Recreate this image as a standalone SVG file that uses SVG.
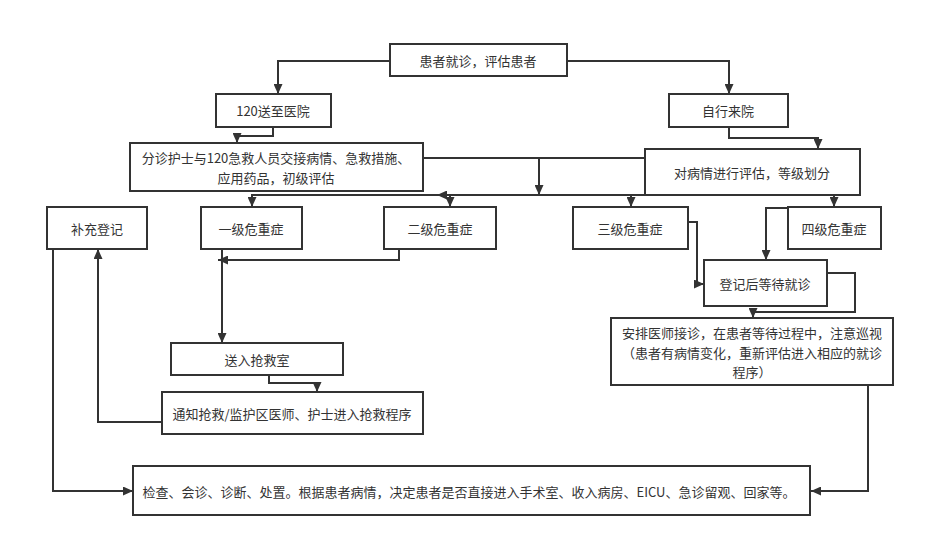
<svg xmlns="http://www.w3.org/2000/svg" width="925" height="545" viewBox="0 0 925 545">
<style>
.box{fill:#fff;stroke:#333;stroke-width:2}
.t{font-family:"Noto Sans CJK SC","Microsoft YaHei",sans-serif;font-size:13px;fill:#333;text-anchor:middle;dominant-baseline:central}
.c{fill:none;stroke:#333;stroke-width:2;marker-end:url(#a)}
.n{fill:none;stroke:#333;stroke-width:2}
</style>
<defs>
<marker id="a" markerUnits="userSpaceOnUse" markerWidth="10" markerHeight="9" refX="10" refY="4.5" orient="auto">
<path d="M0,0 L10,4.5 L0,9 z" fill="#333"/>
</marker>
</defs>
<rect width="925" height="545" fill="#fff"/>
<g id="connectors">
<path class="c" d="M390,61 H278 V94"/>
<path class="c" d="M567,61 H729 V94"/>
<path class="c" d="M273,127 V136 H237 V143"/>
<path class="c" d="M729,127 V138 H818 V149"/>
<path class="n" d="M423,158 H645"/>
<path class="c" d="M539,158 V195"/>
<path class="c" d="M645,195 H252 V207"/>
<path class="c" d="M645,195 H437"/>
<path class="c" d="M450,195 V207"/>
<path class="c" d="M631,195 V207"/>
<path class="c" d="M834,195 V207"/>
<path class="c" d="M399,249 V260 H218"/>
<path class="c" d="M222,249 V343"/>
<path class="c" d="M269,375 V383 H317 V392"/>
<path class="c" d="M162,422 H98 V249"/>
<path class="c" d="M53,249 V491 H133"/>
<path class="c" d="M688,222 H697 V284 H704"/>
<path class="c" d="M788,208 H766 V260"/>
<path class="c" d="M827,273 H855 V312 H753 V318"/>
<path class="c" d="M868,385 V491 H811"/>
</g>
<g id="n_start"><rect class="box" x="390" y="44" width="177" height="32"/><text class="t" x="478" y="60">患者就诊，评估患者</text></g>
<g id="n_120"><rect class="box" x="216" y="94" width="115" height="33"/><text class="t" x="273" y="110">120送至医院</text></g>
<g id="n_self"><rect class="box" x="669" y="94" width="119" height="33"/><text class="t" x="728" y="110">自行来院</text></g>
<g id="n_handover"><rect class="box" x="130" y="143" width="293" height="48"/><text class="t" x="276" y="157.5">分诊护士与120急救人员交接病情、急救措施、<tspan x="276" dy="19">应用药品，初级评估</tspan></text></g>
<g id="n_assess"><rect class="box" x="645" y="149" width="215" height="46"/><text class="t" x="752" y="172">对病情进行评估，等级划分</text></g>
<g id="n_supp"><rect class="box" x="47" y="207" width="100" height="42"/><text class="t" x="97" y="228">补充登记</text></g>
<g id="n_l1"><rect class="box" x="201" y="207" width="101" height="42"/><text class="t" x="251" y="228">一级危重症</text></g>
<g id="n_l2"><rect class="box" x="384" y="207" width="112" height="42"/><text class="t" x="440" y="228">二级危重症</text></g>
<g id="n_l3"><rect class="box" x="573" y="207" width="115" height="42"/><text class="t" x="630" y="228">三级危重症</text></g>
<g id="n_l4"><rect class="box" x="788" y="207" width="93" height="42"/><text class="t" x="834" y="228">四级危重症</text></g>
<g id="n_wait"><rect class="box" x="704" y="260" width="123" height="46"/><text class="t" x="765" y="283">登记后等待就诊</text></g>
<g id="n_doctor"><rect class="box" x="611" y="318" width="282" height="67"/><text class="t" x="752" y="332.5">安排医师接诊，在患者等待过程中，注意巡视<tspan x="752" dy="19">（患者有病情变化，重新评估进入相应的就诊</tspan><tspan x="752" dy="19">程序）</tspan></text></g>
<g id="n_rescue"><rect class="box" x="171" y="343" width="172" height="32"/><text class="t" x="257" y="359">送入抢救室</text></g>
<g id="n_notify"><rect class="box" x="162" y="392" width="261" height="42"/><text class="t" x="292" y="413">通知抢救/监护区医师、护士进入抢救程序</text></g>
<g id="n_final"><rect class="box" x="133" y="466" width="677" height="49"/><text class="t" x="469" y="491">检查、会诊、诊断、处置。根据患者病情，决定患者是否直接进入手术室、收入病房、EICU、急诊留观、回家等。</text></g>
</svg>
